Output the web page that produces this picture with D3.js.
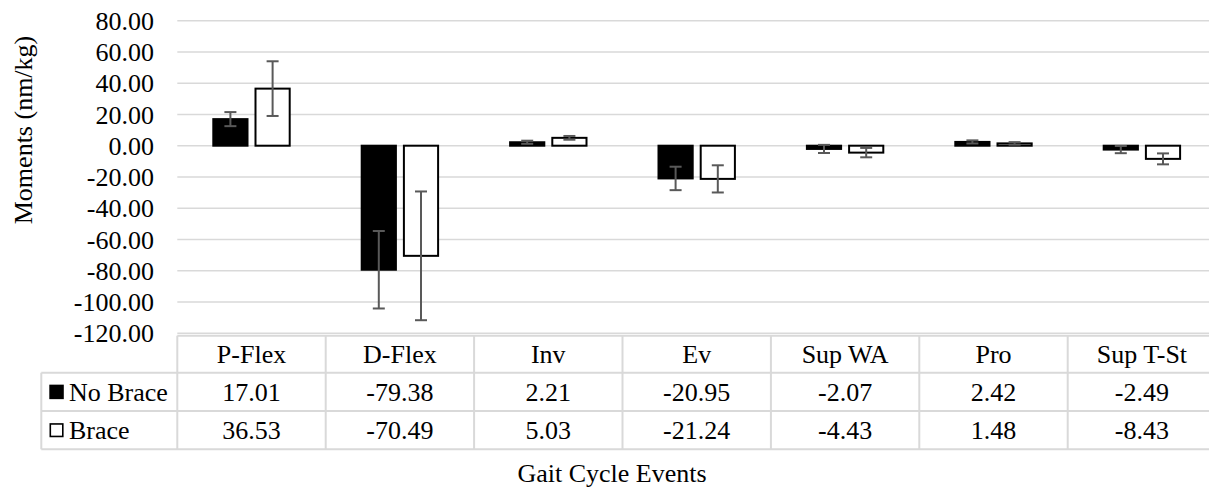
<!DOCTYPE html>
<html>
<head>
<meta charset="utf-8">
<script src="https://cdn.jsdelivr.net/npm/d3@7"></script>
<style>
  html, body { margin: 0; padding: 0; background: #fff; }
  svg { display: block; }
</style>
</head>
<body>
<svg id="chart" width="1209" height="487"></svg>
<script>
const categories = ["P-Flex", "D-Flex", "Inv", "Ev", "Sup WA", "Pro", "Sup T-St"];
const seriesNames = ["No Brace", "Brace"];
const noBrace = [17.01, -79.38, 2.21, -20.95, -2.07, 2.42, -2.49];
const brace = [36.53, -70.49, 5.03, -21.24, -4.43, 1.48, -8.43];
const noBraceErr = [4.5, 24.8, 1.0, 7.5, 2.6, 1.0, 2.3];
const braceErr = [17.5, 41.2, 1.2, 8.7, 3.0, 0.8, 3.5];
const yTicks = [-120, -100, -80, -60, -40, -20, 0, 20, 40, 60, 80];

const fmt = d3.formatLocale({ decimal: ".", thousands: ",", grouping: [3], currency: ["", ""], minus: "-" }).format(".2f");

const svg = d3.select("#chart");
const plotLeft = 177.3, plotRight = 1216.1;
const x = d3.scaleBand().domain(categories).range([plotLeft, plotRight]).padding(0);
const y = d3.scaleLinear().domain([-120, 80]).range([333.2, 20.7]);
const gridColor = "#d9d9d9";
const fontSize = 26;
const FF = '"Liberation Serif", "Times New Roman", "Liberation Sans", Arial, sans-serif';

const txt = sel => sel.style("font-size", fontSize + "px").style("font-family", FF).attr("fill", "#000");

// gridlines
svg.append("g").selectAll("line").data(yTicks).join("line")
  .attr("x1", plotLeft).attr("x2", plotRight)
  .attr("y1", d => y(d)).attr("y2", d => y(d))
  .attr("stroke", gridColor).attr("stroke-width", 1.5);

// y tick labels
svg.append("g").selectAll("text").data(yTicks).join("text")
  .attr("x", 154).attr("y", d => y(d)).attr("dy", "0.35em")
  .attr("text-anchor", "end").call(txt)
  .text(d => fmt(d));

// y axis title
svg.append("text")
  .attr("transform", "translate(23,130) rotate(-90)")
  .attr("text-anchor", "middle").attr("dy", "0.35em")
  .call(txt)
  .text("Moments (nm/kg)");

// bars
const barW = 34.2, gap = 8;
const series = [
  { name: seriesNames[0], values: noBrace, err: noBraceErr, fill: "#000", off: -gap / 2 - barW },
  { name: seriesNames[1], values: brace, err: braceErr, fill: "#fff", off: gap / 2 }
];
const cx = c => x(c) + x.bandwidth() / 2;

series.forEach(s => {
  const g = svg.append("g");
  g.selectAll("rect").data(categories).join("rect")
    .attr("x", (c) => cx(c) + s.off)
    .attr("width", barW)
    .attr("y", (c, i) => Math.min(y(s.values[i]), y(0)))
    .attr("height", (c, i) => Math.abs(y(s.values[i]) - y(0)))
    .attr("fill", s.fill).attr("stroke", "#000").attr("stroke-width", 2);
});

// error bars
series.forEach(s => {
  const g = svg.append("g").attr("stroke", "#595959").attr("stroke-width", 2);
  categories.forEach((c, i) => {
    const xm = cx(c) + s.off + barW / 2;
    const hi = y(s.values[i] + s.err[i]), lo = y(s.values[i] - s.err[i]);
    g.append("line").attr("x1", xm).attr("x2", xm).attr("y1", hi).attr("y2", lo);
    g.append("line").attr("x1", xm - 6).attr("x2", xm + 6).attr("y1", hi).attr("y2", hi);
    g.append("line").attr("x1", xm - 6).attr("x2", xm + 6).attr("y1", lo).attr("y2", lo);
  });
});

// data table
const tTop = 335.7, r1 = 372.7, r2 = 411, r3 = 449.3, legLeft = 41.3;
const tg = svg.append("g").attr("stroke", gridColor).attr("stroke-width", 2);
tg.append("line").attr("x1", plotLeft).attr("x2", plotRight).attr("y1", tTop).attr("y2", tTop);
[r1, r2, r3].forEach(yy => tg.append("line").attr("x1", legLeft).attr("x2", plotRight).attr("y1", yy).attr("y2", yy));
tg.append("line").attr("x1", legLeft).attr("x2", legLeft).attr("y1", r1).attr("y2", r3);
categories.forEach(c => {
  tg.append("line").attr("x1", x(c)).attr("x2", x(c)).attr("y1", tTop).attr("y2", r3);
});
tg.append("line").attr("x1", plotRight).attr("x2", plotRight).attr("y1", tTop).attr("y2", r3);

// header labels
svg.append("g").selectAll("text").data(categories).join("text")
  .attr("x", c => cx(c)).attr("y", (tTop + r1) / 2).attr("dy", "0.35em")
  .attr("text-anchor", "middle").call(txt)
  .text(c => c);

// rows
const rowCenters = [(r1 + r2) / 2, (r2 + r3) / 2];
series.forEach((s, si) => {
  const yc = rowCenters[si];
  svg.append("g").selectAll("text").data(categories).join("text")
    .attr("x", c => cx(c)).attr("y", yc).attr("dy", "0.35em")
    .attr("text-anchor", "middle").call(txt)
    .text((c, i) => fmt(s.values[i]));
  svg.append("rect").attr("x", si === 0 ? 49.3 : 50.3).attr("y", yc - (si === 0 ? 7.2 : 6.2))
    .attr("width", si === 0 ? 14.5 : 12.5).attr("height", si === 0 ? 14.5 : 12.5)
    .attr("fill", s.fill).attr("stroke", "#000").attr("stroke-width", si === 0 ? 0 : 1.6);
  svg.append("text").attr("x", 69).attr("y", yc).attr("dy", "0.35em")
    .call(txt).text(s.name);
});

// x axis title
svg.append("text").attr("x", 612).attr("y", 473).attr("dy", "0.35em")
  .attr("text-anchor", "middle").call(txt)
  .text("Gait Cycle Events");
</script>
</body>
</html>
